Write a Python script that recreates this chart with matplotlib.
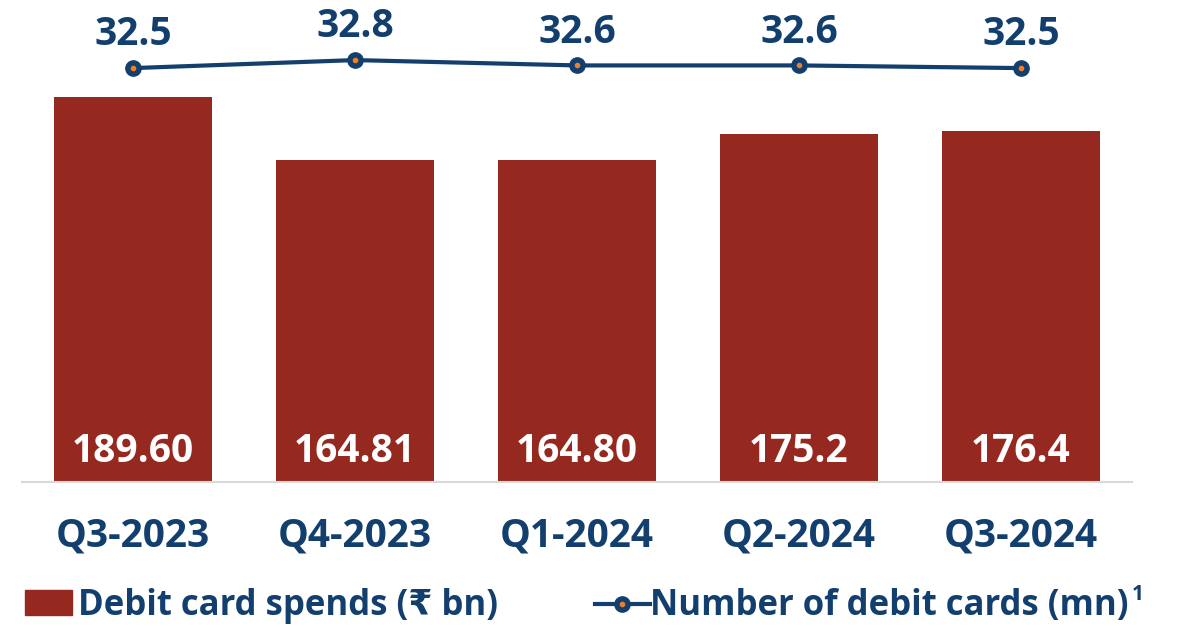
import matplotlib
matplotlib.use("Agg")
from matplotlib import pyplot
from matplotlib.patches import Rectangle
from matplotlib.lines import Line2D

# Data
quarters = ["Q3-2023", "Q4-2023", "Q1-2024", "Q2-2024", "Q3-2024"]
spends = [189.60, 164.81, 164.80, 175.2, 176.4]
spend_labels = ["189.60", "164.81", "164.80", "175.2", "176.4"]
cards = [32.5, 32.8, 32.6, 32.6, 32.5]

red = "#952920"
navy = "#133f6f"
orange = "#f07f22"

pyplot.rcParams["font.family"] = ["Open Sans", "DejaVu Sans"]
pyplot.rcParams["font.weight"] = "bold"

W, H = 1186, 627
fig = pyplot.figure(figsize=(11.86, 6.27), dpi=100)
ax = fig.add_axes([22 / W, 1 - 482 / H, 1110 / W, 482 / H])

x = list(range(len(quarters)))
ax.bar(x, spends, width=0.71, color=red, zorder=2)
ax.set_xlim(-0.5, 4.5)
ax.set_ylim(38.1, 227.8)
for i, lab in enumerate(spend_labels):
    ax.annotate(lab, xy=(i, 38.1), xytext=(0, 14.4), textcoords="offset points",
                ha="center", va="baseline", color="white", fontsize=28, fontweight="bold")

for s in ["top", "right", "left"]:
    ax.spines[s].set_visible(False)
ax.spines["bottom"].set_color("#d9d9d9")
ax.spines["bottom"].set_linewidth(1.5)
ax.set_yticks([])
ax.set_xticks(x)
ax.set_xticklabels(quarters, color=navy, fontsize=28, fontweight="bold")
ax.tick_params(axis="x", length=0, pad=25)

ax2 = ax.twinx()
ax2.set_ylim(17.0, 35.05)
ax2.plot(x, cards, color=navy, lw=3, marker="o", markersize=11, zorder=3)
ax2.plot(x, cards, linestyle="none", marker="o", markersize=3, color=orange, zorder=4)
for i, v in enumerate(cards):
    ax2.annotate(f"{v:.1f}", xy=(i, v), xytext=(0, 16.5), textcoords="offset points",
                 ha="center", va="baseline", color=navy, fontsize=28, fontweight="bold")
ax2.set_yticks([])
for s in ax2.spines.values():
    s.set_visible(False)

# Legend
fig.patches.append(Rectangle((25 / W, 1 - 615 / H), 47 / W, 25 / H,
                             transform=fig.transFigure, color=red))
fig.text(78 / W, 1 - 615 / H, "Debit card spends (₹ bn)", color=navy, fontsize=25,
         fontweight="bold", va="baseline", ha="left")
fig.lines.append(Line2D([595 / W, 650 / W], [1 - 604 / H, 1 - 604 / H],
                        transform=fig.transFigure, color=navy, lw=3))
fig.lines.append(Line2D([622 / W], [1 - 604 / H], transform=fig.transFigure,
                        color=navy, marker="o", markersize=11))
fig.lines.append(Line2D([622 / W], [1 - 604 / H], transform=fig.transFigure,
                        color=orange, marker="o", markersize=3))
t = fig.text(650 / W, 1 - 615 / H, "Number of debit cards (mn)", color=navy, fontsize=25,
             fontweight="bold", va="baseline", ha="left")
fig.canvas.draw()
bb = t.get_window_extent()
fig.text(bb.x1 / W + 3 / W, 1 - 600 / H, "1", color=navy, fontsize=15,
         fontweight="bold", va="baseline", ha="left")

fig.savefig("out.png", dpi=100)
